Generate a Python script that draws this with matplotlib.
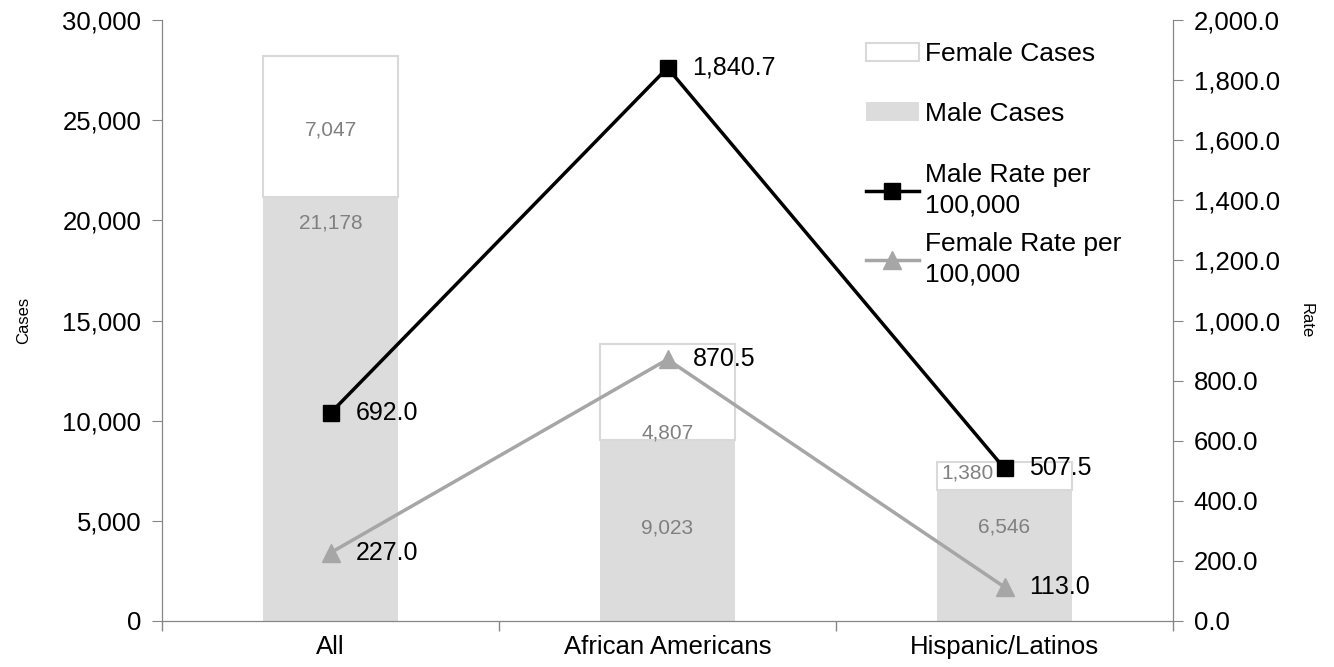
import matplotlib
matplotlib.use("Agg")
import matplotlib.pyplot as plt
import numpy as np
from matplotlib.ticker import FuncFormatter, FixedLocator

plt.rcParams['font.family'] = ['Liberation Sans', 'DejaVu Sans']

categories = ['All', 'African Americans', 'Hispanic/Latinos']
male_cases = [21178, 9023, 6546]
female_cases = [7047, 4807, 1380]
male_rate = [692.0, 1840.7, 507.5]
female_rate = [227.0, 870.5, 113.0]

# where the case labels sit (cases axis / category offset), as in the original
male_label_y = [19870, 4640, 4690]
female_label_y = [24510, 9380, 7390]
female_label_dx = [0, 0, -0.11]

axis_grey = '#868686'

fig = plt.figure(figsize=(13.34, 6.67), dpi=100)
ax = fig.add_axes([162 / 1334, 46 / 667, 1011 / 1334, 601 / 667])
ax2 = ax.twinx()

x = np.arange(len(categories))
w = 0.4
b1 = ax.bar(x, male_cases, w, color='#dcdcdc', edgecolor='none', label='Male Cases')
b2 = ax.bar(x, female_cases, w, bottom=male_cases, color='white', edgecolor='#d9d9d9',
            linewidth=1.5, label='Female Cases')

for i in range(len(x)):
    ax.text(x[i], male_label_y[i], f'{male_cases[i]:,}', ha='center', va='center',
            fontsize=15, color='#808080')
    ax.text(x[i] + female_label_dx[i], female_label_y[i], f'{female_cases[i]:,}',
            ha='center', va='center', fontsize=15, color='#808080')

l1, = ax2.plot(x, male_rate, color='black', lw=2.5, marker='s', markersize=12,
               label='Male Rate per\n100,000')
l2, = ax2.plot(x, female_rate, color='#a6a6a6', lw=2.5, marker='^', markersize=13,
               label='Female Rate per\n100,000')
for i in range(len(x)):
    ax2.annotate(f'{male_rate[i]:,.1f}', (x[i], male_rate[i]), xytext=(18, 0),
                 textcoords='offset points', ha='left', va='center', fontsize=18)
    ax2.annotate(f'{female_rate[i]:,.1f}', (x[i], female_rate[i]), xytext=(18, 0),
                 textcoords='offset points', ha='left', va='center', fontsize=18)

ax.set_xlim(-0.5, 2.5)
ax.set_ylim(0, 30000)
ax2.set_ylim(0, 2000)
ax.set_yticks(np.arange(0, 30001, 5000))
ax2.set_yticks(np.arange(0, 2001, 200))
ax.yaxis.set_major_formatter(FuncFormatter(lambda v, p: f'{v:,.0f}'))
ax2.yaxis.set_major_formatter(FuncFormatter(lambda v, p: f'{v:,.1f}'))

ax.set_xticks(x)
ax.set_xticklabels(categories, fontsize=18.5)
ax.xaxis.set_minor_locator(FixedLocator([-0.5, 0.5, 1.5, 2.5]))
ax.tick_params(axis='x', which='major', length=0, pad=10)
ax.tick_params(axis='x', which='minor', length=7, color=axis_grey, width=1)
ax.tick_params(axis='y', labelsize=18.5, length=7, color=axis_grey, pad=8)
ax2.tick_params(axis='y', labelsize=18.5, length=7, color=axis_grey, pad=8)

for a in (ax, ax2):
    a.spines['top'].set_visible(False)
    for s in ('left', 'right', 'bottom'):
        a.spines[s].set_color(axis_grey)

ax.set_ylabel('Cases', fontsize=12, labelpad=22)
ax2.set_ylabel('Rate', fontsize=12, rotation=270, labelpad=24)

leg1 = ax2.legend([b2, b1], ['Female Cases', 'Male Cases'], loc='upper left',
                  bbox_to_anchor=(866 / 1334, 625 / 667), bbox_transform=fig.transFigure,
                  frameon=False, fontsize=19, labelspacing=1.35, handlelength=2.0,
                  handletextpad=0.25, borderaxespad=0, borderpad=0)
ax2.add_artist(leg1)
ax2.legend([l1, l2], [l1.get_label(), l2.get_label()], loc='upper left',
           bbox_to_anchor=(866 / 1334, 504 / 667), bbox_transform=fig.transFigure,
           frameon=False, fontsize=19, labelspacing=0.55, handlelength=2.0,
           handletextpad=0.25, borderaxespad=0, borderpad=0)
for leg in ax2.get_legend(), leg1:
    for t in leg.get_texts():
        t.set_linespacing(1.35)

fig.savefig('out.png', dpi=100)
